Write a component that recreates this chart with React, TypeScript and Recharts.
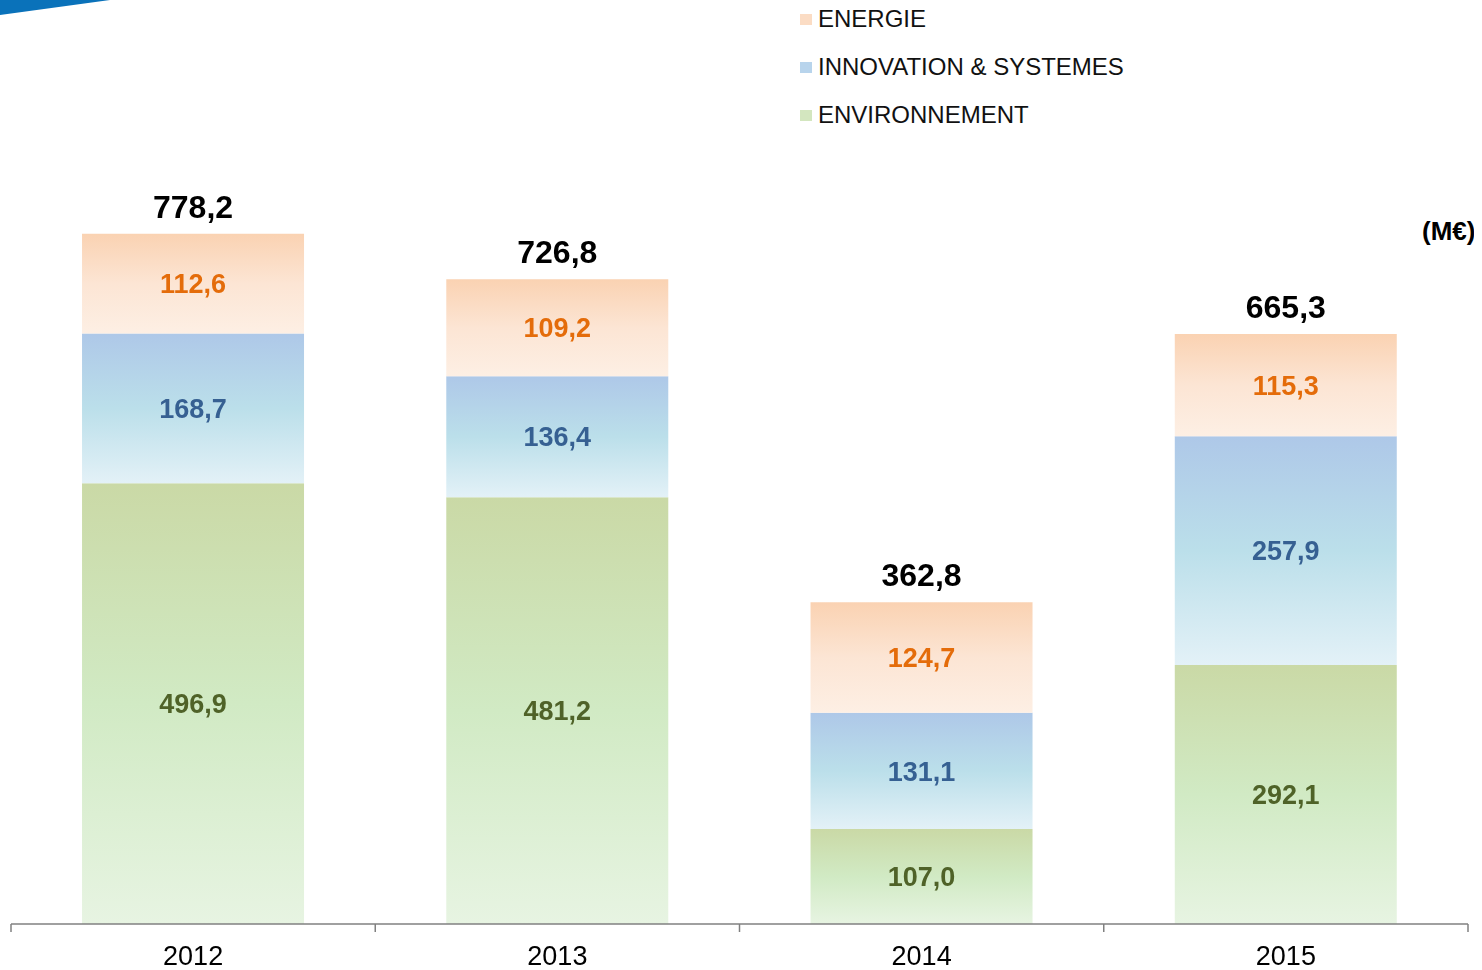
import { BarChart, Bar, XAxis, YAxis, LabelList } from "recharts";

const years = ["2012", "2013", "2014", "2015"];
const environnement = [496.9, 481.2, 107.0, 292.1];
const innovation = [168.7, 136.4, 131.1, 257.9];
const energie = [112.6, 109.2, 124.7, 115.3];
const totals = [778.2, 726.8, 362.8, 665.3];

const legendItems = [
  { name: "ENERGIE", color: "#FBDCC4" },
  { name: "INNOVATION & SYSTEMES", color: "#B8D4EC" },
  { name: "ENVIRONNEMENT", color: "#D3E6BF" },
];

const data = years.map((year, i) => ({
  year,
  env: environnement[i],
  inno: innovation[i],
  ener: energie[i],
  total: totals[i],
}));

const fmt = (v: any) => Number(v).toFixed(1).replace(".", ",");

const FONT = "'Liberation Sans', Arial, sans-serif";

const App = () => {
  return (
    <div style={{ position: "relative", width: 1474, height: 962, fontFamily: FONT }}>
      <svg width={120} height={20} style={{ position: "fixed", left: 0, top: 0 }}>
        <polygon points="0,0 110,0 0,15" fill="#0A72BA" />
      </svg>

      <div style={{ position: "absolute", left: 792, top: -13 }}>
        {legendItems.map((item) => (
          <div
            key={item.name}
            style={{ display: "flex", alignItems: "center", height: 48, fontSize: 24, color: "#111" }}
          >
            <span
              style={{ display: "inline-block", width: 12, height: 11, background: item.color, marginRight: 6 }}
            />
            {item.name}
          </div>
        ))}
      </div>

      <div
        style={{
          position: "absolute",
          left: 1414,
          top: 208,
          fontSize: 26,
          fontWeight: "bold",
          color: "#000",
        }}
      >
        (M€)
      </div>

      <BarChart
        width={1474}
        height={962}
        data={data}
        margin={{ top: 29, right: 14, left: 3, bottom: 6 }}
        barCategoryGap="19.5%"
      >
        <defs>
          <linearGradient id="gEner" x1="0" y1="0" x2="0" y2="1">
            <stop offset="0%" stopColor="#FAD2B2" />
            <stop offset="50%" stopColor="#FCE5D4" />
            <stop offset="100%" stopColor="#FDEFE4" />
          </linearGradient>
          <linearGradient id="gInno" x1="0" y1="0" x2="0" y2="1">
            <stop offset="0%" stopColor="#AEC8E8" />
            <stop offset="50%" stopColor="#BBDFEA" />
            <stop offset="100%" stopColor="#E3F1F7" />
          </linearGradient>
          <linearGradient id="gEnv" x1="0" y1="0" x2="0" y2="1">
            <stop offset="0%" stopColor="#CAD9A6" />
            <stop offset="50%" stopColor="#D1EAC4" />
            <stop offset="100%" stopColor="#E7F4E2" />
          </linearGradient>
        </defs>
        <XAxis
          dataKey="year"
          height={40}
          axisLine={{ stroke: "#808080", strokeWidth: 1.5 }}
          tickLine={false}
          tick={{ fontSize: 27, fill: "#000", fontFamily: FONT }}
          tickMargin={16}
          interval={0}
        />
        <YAxis hide domain={[0, 1000]} />
        <Bar dataKey="env" stackId="a" fill="url(#gEnv)" isAnimationActive={false}>
          <LabelList
            dataKey="env"
            position="center"
            formatter={fmt}
            style={{ fontSize: 27, fontWeight: "bold", fill: "#4F6228", fontFamily: FONT }}
          />
        </Bar>
        <Bar dataKey="inno" stackId="a" fill="url(#gInno)" isAnimationActive={false}>
          <LabelList
            dataKey="inno"
            position="center"
            formatter={fmt}
            style={{ fontSize: 27, fontWeight: "bold", fill: "#366092", fontFamily: FONT }}
          />
        </Bar>
        <Bar dataKey="ener" stackId="a" fill="url(#gEner)" isAnimationActive={false}>
          <LabelList
            dataKey="ener"
            position="center"
            formatter={fmt}
            style={{ fontSize: 27, fontWeight: "bold", fill: "#E46C0A", fontFamily: FONT }}
          />
          <LabelList
            dataKey="total"
            position="top"
            offset={16}
            formatter={fmt}
            style={{ fontSize: 32, fontWeight: "bold", fill: "#000", fontFamily: FONT }}
          />
        </Bar>
      </BarChart>

      <svg width={1474} height={962} style={{ position: "absolute", left: 0, top: 0, pointerEvents: "none" }}>
        {[0, 1, 2, 3, 4].map((i) => (
          <line
            key={i}
            x1={3 + (i * 1457) / 4}
            x2={3 + (i * 1457) / 4}
            y1={916}
            y2={924}
            stroke="#808080"
            strokeWidth={1.5}
          />
        ))}
      </svg>
    </div>
  );
};

export default App;
